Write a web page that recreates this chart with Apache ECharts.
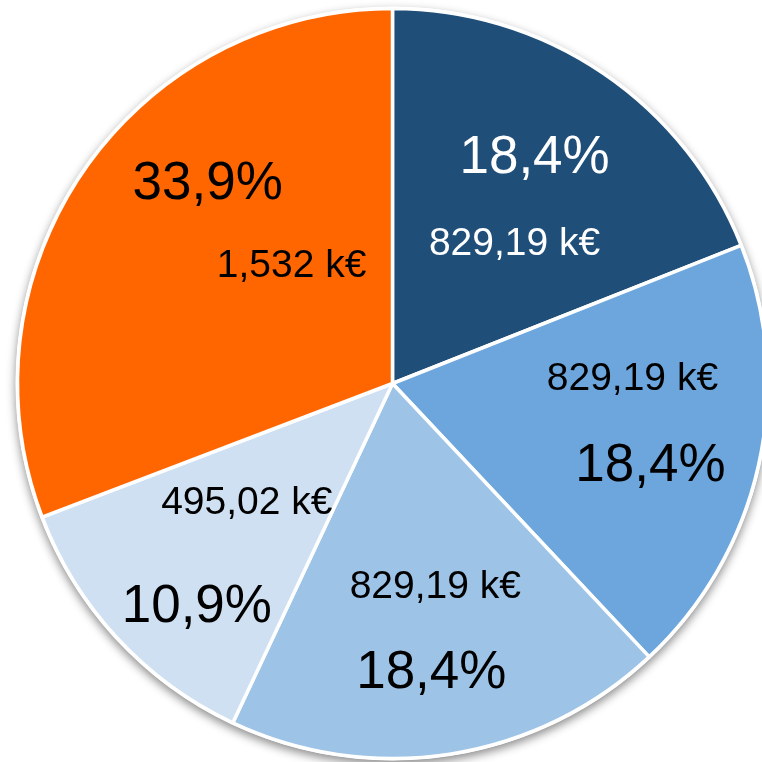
<!DOCTYPE html>
<html>
<head>
<meta charset="utf-8">
<script src="https://cdn.jsdelivr.net/npm/echarts@6/dist/echarts.min.js"></script>
<style>
html, body { margin: 0; padding: 0; background: #ffffff; }
#chart { width: 762px; height: 762px; }
</style>
</head>
<body>
<div id="chart"></div>
<script>
// slice shares (clockwise from 12 o'clock)
var sliceShare = [19.0, 19.0, 19.0, 12.2, 30.8]
var percentLabels = ['18,4%', '18,4%', '18,4%', '10,9%', '33,9%']
var valueLabels = ['829,19 k€', '829,19 k€', '829,19 k€', '495,02 k€', '1,532 k€']

var colors = ['#1F4E79', '#6CA6DC', '#9DC3E6', '#CFE0F2', '#FF6600']
var textColors = ['#ffffff', '#000000', '#000000', '#000000', '#000000']
// label nudges from the default inside position
var pctShift = [[35, -68], [72, 41], [9, 102], [-56, 94], [-28, -91]]
var valShift = [[15, 18], [54, -46], [13, 16], [-6, -10], [56, -9]]

var center = [392.5, 383.5]
var font = 'Liberation Sans, Arial, sans-serif'

function pieData (withColor) {
  var out = []
  for (var i = 0; i < sliceShare.length; i++) {
    out.push({
      value: sliceShare[i],
      itemStyle: withColor ? {color: colors[i]} : {color: 'transparent', borderWidth: 0}
    })
  }
  return out
}

var chart = echarts.init(document.getElementById('chart'))
var option = {
  animation: false,
  series: [
    { // white disc behind with soft shadow
      type: 'pie',
      silent: true,
      center: center,
      radius: 377,
      label: {show: false},
      labelLine: {show: false},
      itemStyle: {
        color: '#ffffff',
        shadowBlur: 10,
        shadowOffsetY: 4,
        shadowColor: 'rgba(0, 0, 0, 0.45)'
      },
      data: [1]
    },
    { // slices + percentage labels
      type: 'pie',
      silent: true,
      center: center,
      radius: 375,
      startAngle: 90,
      clockwise: true,
      avoidLabelOverlap: false,
      itemStyle: {borderColor: '#ffffff', borderWidth: 3.5},
      label: {
        show: true,
        position: 'inside',
        fontFamily: font,
        fontSize: 53,
        formatter: function (p) { return percentLabels[p.dataIndex] },
        color: '#000000'
      },
      labelLine: {show: false},
      labelLayout: function (p) {
        return {dx: pctShift[p.dataIndex][0], dy: pctShift[p.dataIndex][1]}
      },
      data: pieData(true).map(function (d, i) {
        d.label = {color: textColors[i]}
        return d
      })
    },
    { // value labels on a transparent copy
      type: 'pie',
      silent: true,
      z: 3,
      center: center,
      radius: 375,
      startAngle: 90,
      clockwise: true,
      avoidLabelOverlap: false,
      label: {
        show: true,
        position: 'inside',
        fontFamily: font,
        fontSize: 39,
        formatter: function (p) { return valueLabels[p.dataIndex] },
        color: '#000000'
      },
      labelLine: {show: false},
      labelLayout: function (p) {
        return {dx: valShift[p.dataIndex][0], dy: valShift[p.dataIndex][1]}
      },
      data: pieData(false).map(function (d, i) {
        d.label = {color: textColors[i]}
        return d
      })
    }
  ]
}
chart.setOption(option)
</script>
</body>
</html>
